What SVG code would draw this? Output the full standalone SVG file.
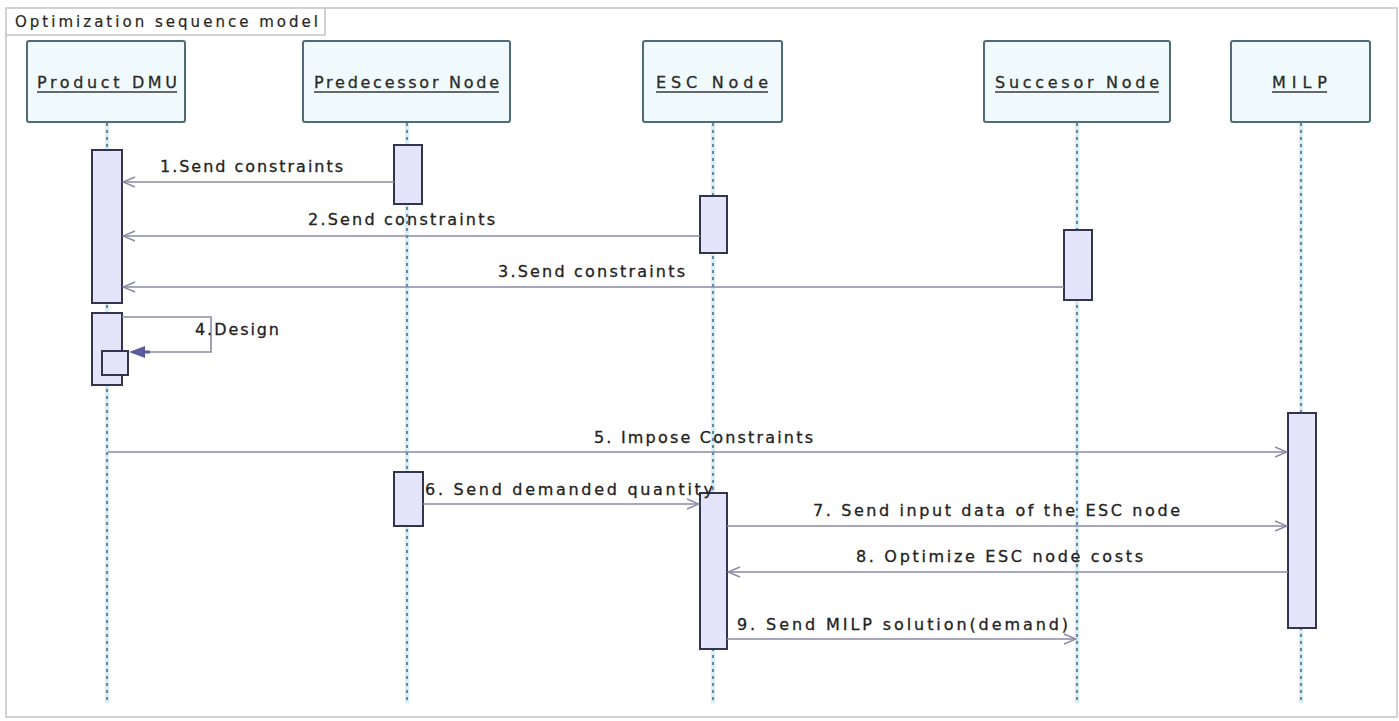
<svg xmlns="http://www.w3.org/2000/svg" width="1399" height="721" viewBox="0 0 1399 721">
  <style>
    .frame { fill: #ffffff; stroke: #c4c4c4; stroke-width: 1.5; }
    .head { fill: #f0fafc; stroke: #4f6b76; stroke-width: 2; }
    .headtxt { font-family: "DejaVu Sans", Verdana, sans-serif; font-size: 16px; fill: #2a2a2a; stroke: #2a2a2a; stroke-width: 0.3; }
    .uline { stroke: #3a3a3a; stroke-width: 1.3; }
    .life { stroke: #4a6f8c; stroke-width: 1.6; stroke-dasharray: 3 4; fill: none; }
    .lifehalo { stroke: #d8eef6; stroke-width: 4; fill: none; }
    .act { fill: #e4e4fa; stroke: #34344e; stroke-width: 2; }
    .msg { stroke: #8a8aa4; stroke-width: 1.6; fill: none; }
    .lbl { font-family: "DejaVu Sans", Verdana, sans-serif; font-size: 16px; fill: #222222; stroke: #222222; stroke-width: 0.3; }
    .title { font-family: "DejaVu Sans", Verdana, sans-serif; font-size: 15px; fill: #262626; stroke: #262626; stroke-width: 0.2; }
  </style>
  <defs>
    <marker id="open" markerUnits="userSpaceOnUse" markerWidth="14" markerHeight="12" refX="13" refY="6" orient="auto">
      <path d="M1,1 L13,6 L1,11" fill="none" stroke="#8a8aa4" stroke-width="1.4"/>
    </marker>
  </defs>

  <!-- diagram frame with its name tab -->
  <rect class="frame" x="6" y="8" width="1391" height="709"/>
  <path d="M6,35 H325 V8" fill="none" stroke="#c4c4c4" stroke-width="1.5"/>
  <text class="title" x="15" y="27" textLength="303" lengthAdjust="spacing">Optimization sequence model</text>

  <!-- lifelines -->
  <g id="lifelines">
    <line class="lifehalo" x1="107" y1="123" x2="107" y2="703"/>
    <line class="life" x1="107" y1="123" x2="107" y2="703"/>
    <line class="lifehalo" x1="407" y1="123" x2="407" y2="703"/>
    <line class="life" x1="407" y1="123" x2="407" y2="703"/>
    <line class="lifehalo" x1="713" y1="123" x2="713" y2="703"/>
    <line class="life" x1="713" y1="123" x2="713" y2="703"/>
    <line class="lifehalo" x1="1077" y1="123" x2="1077" y2="703"/>
    <line class="life" x1="1077" y1="123" x2="1077" y2="703"/>
    <line class="lifehalo" x1="1301" y1="123" x2="1301" y2="703"/>
    <line class="life" x1="1301" y1="123" x2="1301" y2="703"/>
  </g>

  <!-- participants -->
  <g id="product-dmu">
    <rect class="head" x="27" y="41" width="158" height="81" rx="2"/>
    <text class="headtxt" x="37" y="88" textLength="140" lengthAdjust="spacing">Product  DMU</text>
    <line class="uline" x1="37" y1="92" x2="177" y2="92"/>
    <rect class="act" x="92" y="150" width="30" height="153"/>
    <rect class="act" x="92" y="313" width="30" height="72"/>
    <rect class="act" x="102" y="351" width="26" height="24"/>
  </g>
  <g id="predecessor-node">
    <rect class="head" x="303" y="41" width="207" height="81" rx="2"/>
    <text class="headtxt" x="314" y="88" textLength="185" lengthAdjust="spacing">Predecessor Node</text>
    <line class="uline" x1="314" y1="92" x2="499" y2="92"/>
    <rect class="act" x="394" y="145" width="28" height="59"/>
    <rect class="act" x="394" y="472" width="29" height="54"/>
  </g>
  <g id="esc-node">
    <rect class="head" x="643" y="41" width="139" height="81" rx="2"/>
    <text class="headtxt" x="656" y="88" textLength="112" lengthAdjust="spacing">ESC  Node</text>
    <line class="uline" x1="656" y1="92" x2="768" y2="92"/>
    <rect class="act" x="700" y="196" width="27" height="57"/>
    <rect class="act" x="700" y="493" width="27" height="156"/>
  </g>
  <g id="successor-node">
    <rect class="head" x="984" y="41" width="186" height="81" rx="2"/>
    <text class="headtxt" x="995" y="88" textLength="164" lengthAdjust="spacing">Succesor  Node</text>
    <line class="uline" x1="995" y1="92" x2="1159" y2="92"/>
    <rect class="act" x="1064" y="230" width="28" height="70"/>
  </g>
  <g id="milp">
    <rect class="head" x="1231" y="41" width="139" height="81" rx="2"/>
    <text class="headtxt" x="1272" y="88" textLength="55" lengthAdjust="spacing">MILP</text>
    <line class="uline" x1="1272" y1="92" x2="1327" y2="92"/>
    <rect class="act" x="1288" y="413" width="28" height="215"/>
  </g>

  <!-- messages -->
  <g id="connectors">
    <line class="msg" x1="394" y1="182" x2="123" y2="182" marker-end="url(#open)"/>
    <text class="lbl" x="160" y="172" textLength="183" lengthAdjust="spacing">1.Send constraints</text>

    <line class="msg" x1="700" y1="236" x2="123" y2="236" marker-end="url(#open)"/>
    <text class="lbl" x="308" y="225" textLength="187" lengthAdjust="spacing">2.Send constraints</text>

    <line class="msg" x1="1064" y1="287" x2="123" y2="287" marker-end="url(#open)"/>
    <text class="lbl" x="498" y="277" textLength="187" lengthAdjust="spacing">3.Send constraints</text>

    <path class="msg" d="M122,317 H211 V352 H140"/>
    <polygon points="129,352 145,346 145,358" fill="#5a5a9c"/>
    <line x1="145" y1="352" x2="150" y2="352" stroke="#5a5a9c" stroke-width="3"/>
    <text class="lbl" x="195" y="335" textLength="84" lengthAdjust="spacing">4.Design</text>

    <line class="msg" x1="108" y1="452" x2="1287" y2="452" marker-end="url(#open)"/>
    <text class="lbl" x="594" y="443" textLength="219" lengthAdjust="spacing">5. Impose Constraints</text>

    <line class="msg" x1="423" y1="504" x2="699" y2="504" marker-end="url(#open)"/>
    <text class="lbl" x="425" y="495" textLength="288" lengthAdjust="spacing">6. Send demanded quantity</text>

    <line class="msg" x1="727" y1="526" x2="1287" y2="526" marker-end="url(#open)"/>
    <text class="lbl" x="813" y="516" textLength="367" lengthAdjust="spacing">7. Send input data of the ESC node</text>

    <line class="msg" x1="1288" y1="572" x2="728" y2="572" marker-end="url(#open)"/>
    <text class="lbl" x="856" y="562" textLength="287" lengthAdjust="spacing">8. Optimize ESC node costs</text>

    <line class="msg" x1="727" y1="639" x2="1076" y2="639" marker-end="url(#open)"/>
    <text class="lbl" x="737" y="630" textLength="331" lengthAdjust="spacing">9. Send MILP solution(demand)</text>
  </g>
</svg>
